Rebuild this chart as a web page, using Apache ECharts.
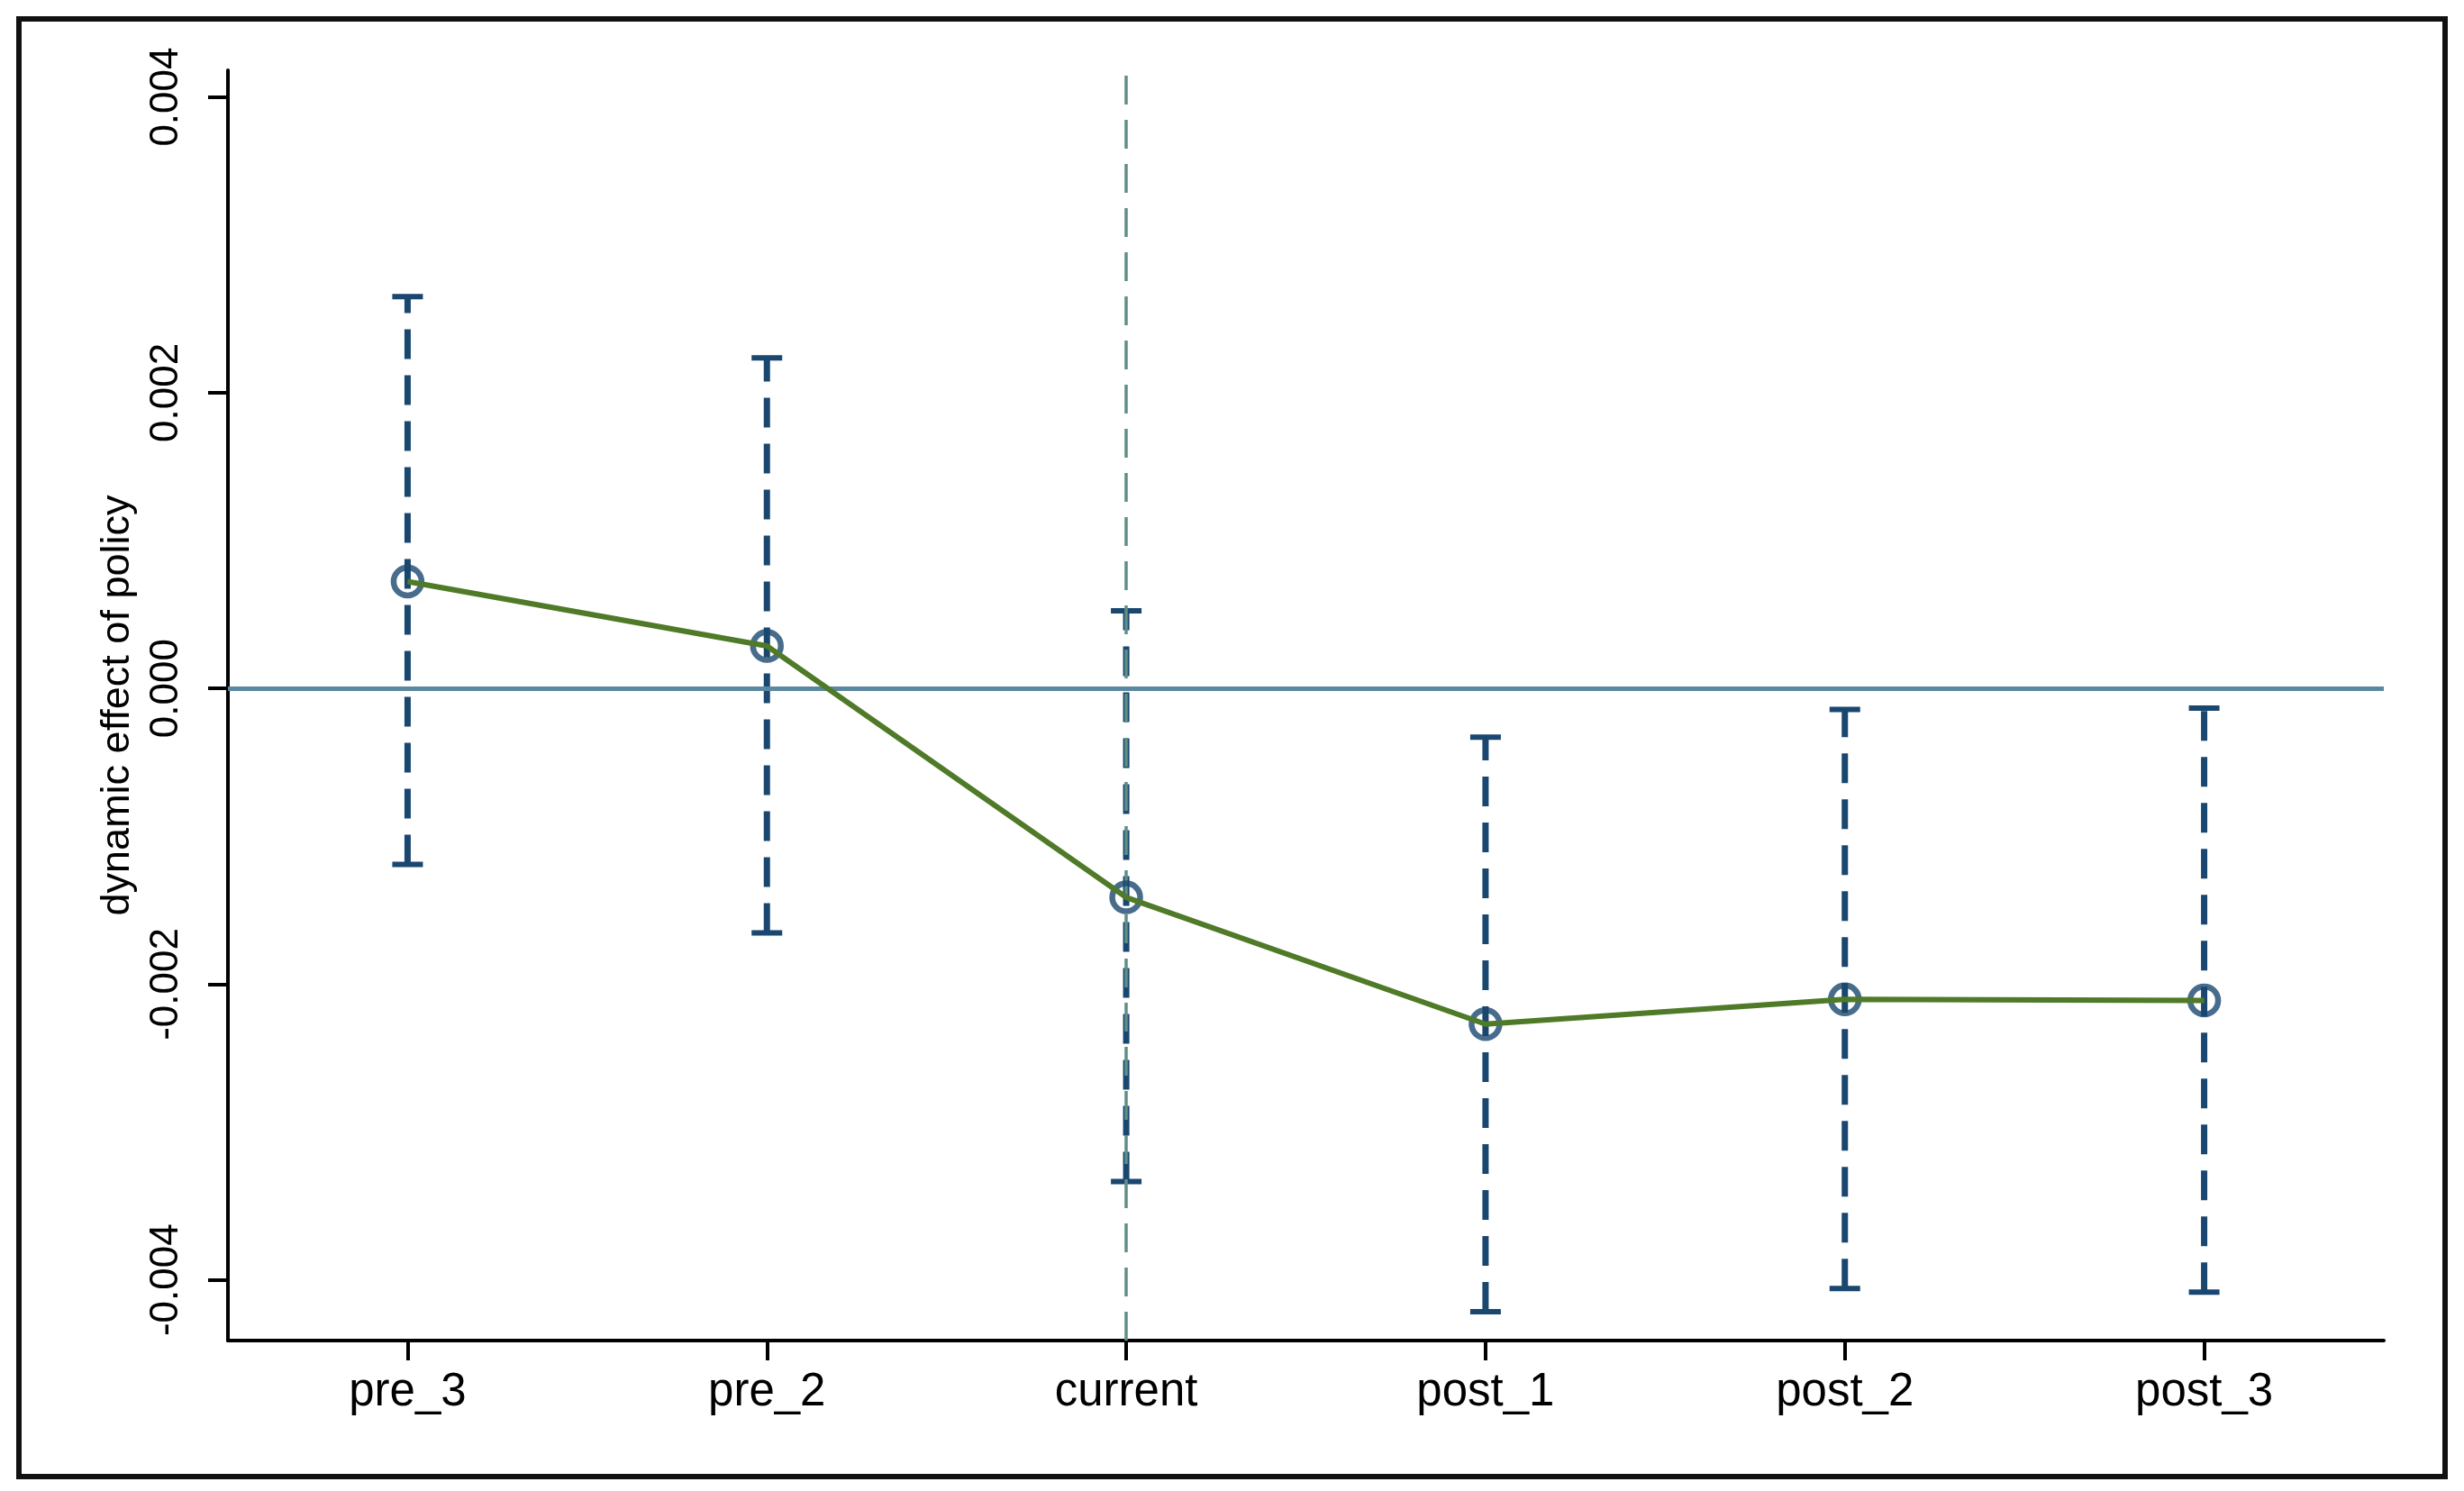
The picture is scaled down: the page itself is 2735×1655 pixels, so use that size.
<!DOCTYPE html>
<html>
<head>
<meta charset="utf-8">
<script src="https://cdn.jsdelivr.net/npm/echarts@6/dist/echarts.min.js"></script>
<style>
html,body{margin:0;padding:0;background:#fff;}
#chart{width:2735px;height:1655px;}
</style>
</head>
<body>
<div id="chart"></div>
<script>
// ---- data ----
const categories = ['pre_3', 'pre_2', 'current', 'post_1', 'post_2', 'post_3'];
const estimates  = [0.000723, 0.000287, -0.001413, -0.002270, -0.002103, -0.002110];
const lowerCI    = [-0.001190, -0.001653, -0.003335, -0.004215, -0.004058, -0.004083];
const upperCI    = [0.002650, 0.002235, 0.000525, -0.000330, -0.000142, -0.000133];
const yTickValues = [-0.004, -0.002, 0.000, 0.002, 0.004];
const yTickLabels = ['-0.004', '-0.002', '0.000', '0.002', '0.004'];
const yAxisTitle = 'dynamic effect of policy';
const eventCategory = 'current';

const NAVY = '#1a476f';
const GREEN = '#4f7a28';
const FONT = 'Liberation Sans, Arial, sans-serif';

const chart = echarts.init(document.getElementById('chart'), null, {renderer: 'canvas'});

const errData = categories.map((c, i) => [i, lowerCI[i], upperCI[i]]);

const gridMarks = yTickValues.filter(v => v !== 0).map(v => ({yAxis: v}));

const option = {
  backgroundColor: '#ffffff',
  animation: false,
  graphic: [{
    type: 'rect',
    shape: {x: 21, y: 21, width: 2693, height: 1618},
    style: {fill: 'none', stroke: '#111', lineWidth: 6},
    silent: true
  }],
  grid: {left: 253, right: 89, top: 78, bottom: 167, containLabel: false},
  xAxis: {
    type: 'category',
    data: categories,
    boundaryGap: true,
    axisLine: {show: true, onZero: false, lineStyle: {color: '#000', width: 4}},
    axisTick: {show: true, alignWithLabel: true, length: 22, lineStyle: {color: '#000', width: 4}},
    axisLabel: {fontFamily: FONT, fontSize: 51, color: '#000', margin: 32},
    splitLine: {show: false}
  },
  yAxis: {
    type: 'value',
    min: -0.00441,
    max: 0.00418,
    axisLine: {show: true, lineStyle: {color: '#000', width: 4}},
    axisTick: {show: true, length: 22, lineStyle: {color: '#000', width: 4}, customValues: yTickValues},
    axisLabel: {
      fontFamily: FONT, fontSize: 44, color: '#000', margin: 46, rotate: 90,
      customValues: yTickValues,
      formatter: function (v) {
        const idx = yTickValues.findIndex(t => Math.abs(t - v) < 1e-9);
        return idx >= 0 ? yTickLabels[idx] : '';
      }
    },
    splitLine: {show: false},
    name: yAxisTitle,
    nameLocation: 'middle',
    nameRotate: 90,
    nameGap: 100,
    nameTextStyle: {fontFamily: FONT, fontSize: 45, color: '#000'}
  },
  series: [
    {
      type: 'line',
      data: [],
      silent: true,
      z: 1,
      markLine: {
        silent: true,
        symbol: ['none', 'none'],
        label: {show: false},
        lineStyle: {color: '#e4efef', width: 5, type: 'solid'},
        data: gridMarks
      }
    },
    {
      type: 'line',
      data: [],
      silent: true,
      z: 2,
      markLine: {
        silent: true,
        symbol: ['none', 'none'],
        label: {show: false},
        lineStyle: {color: '#5b88a0', width: 5, type: 'solid'},
        data: [{yAxis: 0}]
      }
    },
    {
      type: 'line',
      data: [],
      silent: true,
      z: 3,
      markLine: {
        silent: true,
        symbol: ['none', 'none'],
        label: {show: false},
        lineStyle: {color: '#5f8f86', width: 3.5, type: [32, 17]},
        data: [{xAxis: eventCategory}]
      }
    },
    {
      type: 'custom',
      z: 4,
      silent: true,
      data: errData,
      renderItem: function (params, api) {
        const x = api.value(0);
        const lo = api.coord([x, api.value(1)]);
        const hi = api.coord([x, api.value(2)]);
        const hw = 17;
        return {
          type: 'group',
          children: [
            {type: 'line', shape: {x1: lo[0], y1: lo[1], x2: hi[0], y2: hi[1]},
             style: {stroke: NAVY, lineWidth: 7, lineDash: [33, 18], fill: null}},
            {type: 'line', shape: {x1: lo[0] - hw, y1: lo[1], x2: lo[0] + hw, y2: lo[1]},
             style: {stroke: NAVY, lineWidth: 6}},
            {type: 'line', shape: {x1: hi[0] - hw, y1: hi[1], x2: hi[0] + hw, y2: hi[1]},
             style: {stroke: NAVY, lineWidth: 6}}
          ]
        };
      }
    },
    {
      type: 'scatter',
      z: 5,
      silent: true,
      data: estimates,
      symbol: 'circle',
      symbolSize: 31,
      itemStyle: {color: 'rgba(255,255,255,0)', borderColor: NAVY, borderWidth: 6.5}
    },
    {
      type: 'line',
      z: 6,
      silent: true,
      data: estimates,
      showSymbol: false,
      symbol: 'none',
      lineStyle: {color: GREEN, width: 6}
    }
  ]
};

chart.setOption(option);
</script>
</body>
</html>
